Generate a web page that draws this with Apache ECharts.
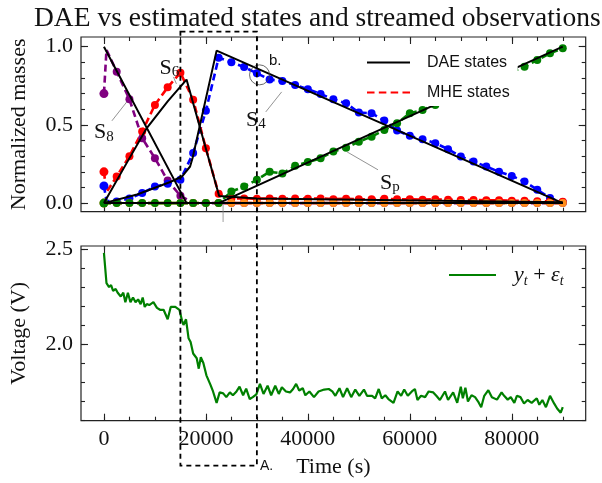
<!DOCTYPE html>
<html><head><meta charset="utf-8">
<script src="https://cdn.jsdelivr.net/npm/echarts@6/dist/echarts.min.js"></script>
<style>html,body{margin:0;padding:0;background:#fff}#c{width:602px;height:483px}</style>
</head><body><div id="c"></div>
<script>
// ---------- DATA ----------
const mheTime = [0,500,2500,5000,7500,10000,12500,15000,17500,20000,22500,25000,27500,30000,32500,35000,37500,40000,42500,45000,47500,50000,52500,55000,57500,60000,62500,65000,67500,70000,72500,75000,77500,80000,82500,85000,87500,90000];
const mheS8 = [0.70,0.98,0.84,0.664,0.415,0.287,0.144,0.047,0,0,0,0,0,0,0,0,0,0,0,0,0,0,0,0,0,0,0,0,0,0,0,0,0,0,0,0,0,0];
const mheS6 = [0.20,0.07,0.17,0.30,0.457,0.628,0.74,0.834,0.66,0.35,0.06,0.03,0.03,0.028,0.03,0.028,0.03,0.028,0.03,0.025,0.028,0.025,0.025,0.028,0.025,0.025,0.022,0.025,0.022,0.02,0.02,0.018,0.018,0.015,0.015,0.012,0.01,0.008];
const mheS4 = [0.11,0.015,0.01,0.03,0.064,0.106,0.123,0.149,0.32,0.59,0.93,0.90,0.87,0.83,0.79,0.78,0.755,0.728,0.698,0.664,0.638,0.579,0.575,0.528,0.464,0.43,0.409,0.383,0.345,0.298,0.266,0.234,0.20,0.174,0.138,0.085,0.032,0.005];
const mheSp = [0,0,0,0,0,0,0,0,0,0,0,0.074,0.106,0.149,0.20,0.19,0.238,0.262,0.287,0.33,0.354,0.393,0.425,0.468,0.51,0.575,0.596,0.628,0.66,0.70,0.735,0.77,0.80,0.84,0.872,0.915,0.958,0.99];
const mheS2 = [0,0,0,0,0,0,0,0,0,0,0,0,0,0,0,0,0,0,0,0,0,0,0,0,0,0,0,0,0,0,0,0,0,0,0,0,0,0];

const daeS8T = [0,16200,90000];            const daeS8V = [1.0,0,0];
const daeS6T = [0,4000,8400,12500,16200,22600,30000,90000];
const daeS6V = [0,0.23,0.48,0.65,0.79,0.045,0.03,0.005];
const daeS4T = [0,6500,13000,15300,16900,17400,22100,90000];
const daeS4V = [0,0.055,0.135,0.17,0.234,0.29,0.975,0];
const daeSpT = [0,22500,90000];            const daeSpV = [0,0,1.0];
const daeS2T = [0,90000];                  const daeS2V = [0,0];

const voltTime = [0,500,1000,1400,1800,2300,2700,3300,3800,4200,
 4700,5200,5700,6200,6700,7200,7600,8000,8400,8900,
 9200,9700,10400,11000,11700,12500,13100,14000,14800,15300,
 15600,16100,16600,17000,17500,18200,18600,19000,19500,20100,
 20900,21400,22100,22700,23400,24000,24700,25300,26000,26600,
 27300,27900,28600,29200,29900,30600,31300,32100,32800,33600,
 34300,34900,35700,36500,37100,37700,38300,39000,39500,40300,
 41200,42100,43200,44100,44800,45400,46200,46900,47700,48500,
 49300,50100,51000,51600,52600,53200,53900,54500,55200,55800,
 56800,57600,58300,58900,59600,60400,61000,61500,62200,63000,
 63700,64600,65200,65900,66900,67500,68500,69300,70000,70400,
 70900,71400,72100,72800,73400,74000,74600,75400,76100,77100,
 78000,78500,79200,79800,80500,81000,81700,82400,83100,83900,
 84900,85400,86000,86700,87500,88300,88900,89600,90000];
const voltValue = [2.48,2.32,2.30,2.31,2.28,2.29,2.27,2.25,2.27,2.22,
 2.27,2.22,2.245,2.22,2.235,2.21,2.245,2.195,2.21,2.205,
 2.215,2.22,2.19,2.18,2.18,2.13,2.195,2.195,2.18,2.125,
 2.10,2.13,2.03,2.01,1.95,1.925,1.87,1.93,1.90,1.835,
 1.785,1.75,1.69,1.745,1.74,1.72,1.745,1.73,1.75,1.775,
 1.73,1.765,1.71,1.72,1.735,1.79,1.737,1.78,1.73,1.78,
 1.737,1.772,1.75,1.745,1.763,1.79,1.755,1.767,1.73,1.75,
 1.72,1.75,1.76,1.763,1.75,1.727,1.767,1.72,1.767,1.72,
 1.76,1.727,1.76,1.727,1.727,1.714,1.763,1.714,1.73,1.71,
 1.69,1.75,1.727,1.76,1.727,1.75,1.763,1.705,1.727,1.72,
 1.75,1.745,1.727,1.705,1.75,1.705,1.745,1.69,1.775,1.714,
 1.77,1.697,1.73,1.72,1.697,1.667,1.727,1.757,1.72,1.707,
 1.745,1.727,1.707,1.72,1.69,1.727,1.72,1.687,1.705,1.69,
 1.714,1.68,1.705,1.667,1.727,1.687,1.66,1.638,1.667];

const xMajorTicks = [0,20000,40000,60000,80000];
const xMinorTicks = [0,5000,10000,15000,20000,25000,30000,35000,40000,45000,50000,55000,60000,65000,70000,75000,80000,85000,90000];
const yTopMajorTicks = [0,0.5,1.0];
const yTopMinorTicks = [0,0.1,0.2,0.3,0.4,0.5,0.6,0.7,0.8,0.9,1.0];
const yBotMajorTicks = [2.0,2.5];
const yBotMinorTicks = [1.6,1.7,1.8,1.9,2.0,2.1,2.2,2.3,2.4,2.5];

// ---------- CHART ----------
const SERIF = '"Liberation Serif","Times New Roman",serif';
const SANS = '"Liberation Sans",Arial,sans-serif';
const INK = '#222';
const chart = echarts.init(document.getElementById('c'), null, {renderer:'canvas'});
const pairs = (ts, vs) => ts.map((t,i) => [t, vs[i]]);
const noLine = {show:false, onZero:false};

function xAxesFor(g, labels) {
  const base = {type:'value', gridIndex:g, min:-4500, max:94500, splitLine:{show:false}, axisLine:noLine};
  const tick = (vals, len) => ({show:true, inside:true, length:len, customValues:vals, lineStyle:{color:INK, width:1.1}});
  const lab = {show:labels, customValues:xMajorTicks, fontFamily:SERIF, fontSize:22, color:'#111', margin:8, formatter:v => String(v)};
  return [
    Object.assign({}, base, {position:'bottom', axisTick:tick(xMajorTicks,7), axisLabel:lab,
      name: labels ? 'Time (s)' : '', nameLocation:'middle', nameGap:36,
      nameTextStyle:{fontFamily:SERIF, fontSize:22, color:'#111'}}),
    Object.assign({}, base, {position:'bottom', axisTick:tick(xMinorTicks,4), axisLabel:{show:false}}),
    Object.assign({}, base, {position:'top', axisTick:tick(xMajorTicks,7), axisLabel:{show:false}}),
    Object.assign({}, base, {position:'top', axisTick:tick(xMinorTicks,4), axisLabel:{show:false}})
  ];
}
function yAxesFor(g, min, max, major, minor, name, fmt) {
  const base = {type:'value', gridIndex:g, min:min, max:max, splitLine:{show:false}, axisLine:noLine};
  const tick = (vals, len) => ({show:true, inside:true, length:len, customValues:vals, lineStyle:{color:INK, width:1.1}});
  return [
    Object.assign({}, base, {position:'left', axisTick:tick(major,7),
      axisLabel:{show:true, customValues:major, fontFamily:SERIF, fontSize:22, color:'#111', margin:8, formatter:fmt},
      name:name, nameLocation:'middle', nameGap:51, nameTextStyle:{fontFamily:SERIF, fontSize:22, color:'#111'}}),
    Object.assign({}, base, {position:'left', axisTick:tick(minor,4), axisLabel:{show:false}}),
    Object.assign({}, base, {position:'right', axisTick:tick(major,7), axisLabel:{show:false}}),
    Object.assign({}, base, {position:'right', axisTick:tick(minor,4), axisLabel:{show:false}})
  ];
}

const mheSym = v => (v[0] === 0 ? 9 : (v[0] % 2500 === 0 ? 8 : 0));
function mhe(name, vals, color, z) {
  return {type:'line', name:name, xAxisIndex:0, yAxisIndex:0, data:pairs(mheTime, vals),
    symbol:'circle', symbolSize:mheSym, showSymbol:true, z:z,
    itemStyle:{color:color}, lineStyle:{color:color, width:2.6, type:[7,4]}, animation:false};
}
function dae(name, ts, vs) {
  return {type:'line', name:name, xAxisIndex:0, yAxisIndex:0, data:pairs(ts, vs), symbol:'none', z:5,
    itemStyle:{color:'#000'}, lineStyle:{color:'#000', width:2}, animation:false};
}

const solidIcon = 'path://M0,0h43v2h-43z';
const dashIcon = 'path://M0,0h7v2h-7zM11,0h7v2h-7zM22,0h7v2h-7zM33,0h7v2h-7z';
const voltIcon = 'path://M0,0h47v2.2h-47z';

const option = {
  animation:false,
  backgroundColor:'#fff',
  title:{text:'DAE vs estimated states and streamed observations', left:29, top:0,
    textStyle:{fontFamily:SERIF, fontSize:27.5, fontWeight:'normal', color:'#111'}},
  grid:[
    {left:77.6, right:16.3, top:37, height:174.7, show:true, borderColor:INK, borderWidth:1.2, backgroundColor:'transparent'},
    {left:77.6, right:16.3, top:246, height:174.7, show:true, borderColor:INK, borderWidth:1.2, backgroundColor:'transparent'}
  ],
  xAxis: xAxesFor(0,false).concat(xAxesFor(1,true)),
  yAxis: yAxesFor(0,-0.055,1.062,yTopMajorTicks,yTopMinorTicks,'Normalized masses', v => v.toFixed(1))
    .concat(yAxesFor(1,1.596,2.516,yBotMajorTicks,yBotMinorTicks,'Voltage (V)', v => v.toFixed(1))),
  legend:[
    {left:360, top:45, orient:'vertical', itemWidth:43, itemHeight:2.4, itemGap:11, selectedMode:false,
     backgroundColor:'#fff', padding:[8,8,4,7], z:20,
     textStyle:{fontFamily:SANS, fontSize:16, color:'#111', padding:[0,0,0,12], lineHeight:19},
     data:[{name:'DAE states', icon:solidIcon}, {name:'MHE states', icon:dashIcon}]},
    {left:443, top:260, orient:'vertical', itemWidth:47, itemHeight:2.4, selectedMode:false, padding:[4,6,4,6],
     data:[{name:'volt', icon:voltIcon}],
     formatter:() => '{sp|}{i|y}{s|t}{n| + }{i|ε}{s|t}',
     textStyle:{rich:{
       sp:{width:13, lineHeight:26},
       i:{fontFamily:SERIF, fontStyle:'italic', fontSize:22, color:'#111', lineHeight:26, verticalAlign:'middle'},
       n:{fontFamily:SERIF, fontSize:22, color:'#111', lineHeight:26, verticalAlign:'middle'},
       s:{fontFamily:SERIF, fontStyle:'italic', fontSize:14, color:'#111', lineHeight:26, verticalAlign:'bottom'}}}}
  ],
  series:[
    mhe('S8 MHE', mheS8, '#800080', 2),
    mhe('S4 MHE', mheS4, '#0000ff', 2),
    mhe('S6 MHE', mheS6, '#ff0000', 2),
    mhe('S2 MHE', mheS2, '#ff8c1a', 2),
    mhe('Sp MHE', mheSp, '#008000', 2),
    dae('DAE states', daeS8T, daeS8V),
    dae('DAE S6', daeS6T, daeS6V),
    dae('DAE S4', daeS4T, daeS4V),
    dae('DAE Sp', daeSpT, daeSpV),
    dae('DAE S2', daeS2T, daeS2V),
    {type:'line', name:'MHE states', xAxisIndex:0, yAxisIndex:0, data:[], symbol:'none',
     itemStyle:{color:'#ff0000'}, lineStyle:{color:'#ff0000', width:2.6, type:[7,4]}},
    {type:'line', name:'volt', xAxisIndex:4, yAxisIndex:4, data:pairs(voltTime, voltValue), symbol:'none', z:3,
     itemStyle:{color:'#008000'}, lineStyle:{color:'#008000', width:2.2}}
  ]
};
chart.setOption(option);

// ---------- ANNOTATIONS (anchored in data coordinates) ----------
const P = d => chart.convertToPixel({xAxisIndex:0, yAxisIndex:0}, d);
const labels = [
  {sub:'8', at:[0,0.453], from:[1560,0.526], to:[4480,0.647]},
  {sub:'6', at:[12850,0.864], from:[13630,0.807], to:[14220,0.762]},
  {sub:'4', at:[29790,0.531], from:[31740,0.583], to:[34860,0.711]},
  {sub:'p', at:[56080,0.13], from:[53750,0.213], to:[47710,0.327]}
];
const g = [];
labels.forEach(l => {
  const a = P(l.at), f = P(l.from), t = P(l.to);
  g.push({type:'line', shape:{x1:f[0], y1:f[1], x2:t[0], y2:t[1]}, style:{stroke:'#777', lineWidth:0.8}, z:30});
  g.push({type:'text', x:a[0], y:a[1], z:30, style:{text:'{m|S}{s|' + l.sub + '}', align:'center', verticalAlign:'middle',
    rich:{m:{fontFamily:SERIF, fontSize:22, fill:'#111', lineHeight:24, verticalAlign:'middle'},
          s:{fontFamily:SERIF, fontSize:15, fill:'#111', lineHeight:24, verticalAlign:'bottom'}}}});
});
const gl0 = P([23370,0]);
g.push({type:'line', shape:{x1:gl0[0], y1:205, x2:gl0[0], y2:222}, style:{stroke:'#888', lineWidth:0.8}, z:30});
const cb = P([30520,0.82]);
g.push({type:'circle', shape:{cx:cb[0], cy:cb[1], r:10}, style:{fill:'none', stroke:'#444', lineWidth:0.8}, z:30});
const tb = P([33590,0.909]);
g.push({type:'text', x:tb[0], y:tb[1], z:30, style:{text:'b.', fontFamily:SANS, fontSize:15, fill:'#111', align:'center', verticalAlign:'middle'}});
const xa = P([15000,0])[0], xb = P([30000,0])[0];
g.push({type:'rect', shape:{x:xa, y:31.7, width:xb-xa, height:434}, z:30,
  style:{fill:'none', stroke:'#000', lineWidth:1.8, lineDash:[5,4]}});
g.push({type:'text', x:xb+3, y:466, z:30, style:{text:'A.', fontFamily:SANS, fontSize:14, fill:'#111', align:'left', verticalAlign:'middle'}});
chart.setOption({graphic:g});
</script>
</body></html>
